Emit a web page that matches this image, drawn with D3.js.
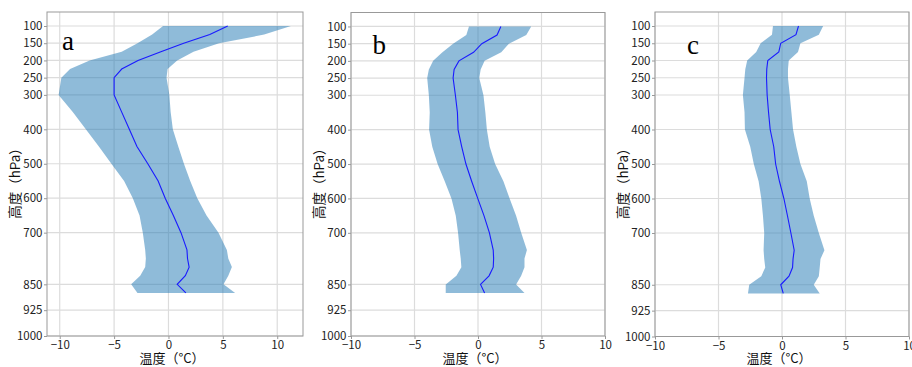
<!DOCTYPE html>
<html>
<head>
<meta charset="utf-8">
<script src="https://cdn.jsdelivr.net/npm/d3@7"></script>
<style>
  body { margin: 0; background: #fff; }
  svg { display: block; }
  text { font-family: "Noto Sans CJK SC", "Noto Sans", sans-serif; }
</style>
</head>
<body>
<div id="chart"></div>
<script>
// pressure levels (hPa) of the profiles
const levels = [100, 125, 150, 175, 200, 225, 250, 300, 350, 400, 450, 500, 550, 600, 650, 700, 750, 775, 800, 825, 850, 875];

// panel a
const meanA = [5.45, 3.8, 1.4, -0.7, -2.8, -4.3, -5.0, -5.0, -4.3, -3.6, -2.9, -1.9, -0.95, -0.3, 0.45, 1.15, 1.7, 1.75, 1.9, 1.55, 0.8, 1.6];
const lowA = [-0.5, -1.5, -2.85, -4.3, -7.25, -9.05, -9.85, -10.1, -8.8, -7.6, -6.4, -5.25, -4.08, -3.28, -2.66, -2.36, -2.14, -2.08, -2.14, -2.6, -3.43, -2.85];
const highA = [11.26, 8.8, 4.65, 2.3, 0.8, -0.08, -0.18, 0.08, 0.2, 0.4, 0.9, 1.42, 2.0, 2.65, 3.5, 4.6, 5.37, 5.5, 5.83, 5.5, 5.06, 6.13];

// panel b
const meanB = [1.8, 1.5, 0.3, -0.35, -1.5, -1.88, -1.96, -1.78, -1.62, -1.57, -1.28, -0.95, -0.5, -0.02, 0.47, 0.9, 1.2, 1.23, 1.2, 0.87, 0.2, 0.52];
const lowB = [-0.71, -0.92, -1.96, -2.8, -3.53, -3.87, -4.0, -3.87, -3.8, -3.85, -3.6, -3.18, -2.62, -2.09, -1.75, -1.57, -1.44, -1.36, -1.31, -1.7, -2.54, -2.54];
const highB = [4.19, 3.8, 2.43, 1.83, 0.52, 0.21, 0.1, 0.43, 0.58, 0.7, 0.92, 1.35, 2.0, 2.49, 3.0, 3.4, 3.85, 3.66, 3.66, 3.4, 3.0, 3.66];

// panel c
const meanC = [1.3, 1.1, -0.1, -0.25, -1.12, -1.2, -1.22, -1.17, -1.06, -0.93, -0.65, -0.5, -0.2, 0.15, 0.43, 0.7, 0.96, 0.87, 0.83, 0.55, -0.1, 0.1];
const lowC = [-0.71, -0.79, -1.68, -2.03, -2.74, -2.89, -2.95, -3.08, -2.95, -2.92, -2.5, -2.22, -1.84, -1.63, -1.5, -1.4, -1.45, -1.4, -1.32, -1.63, -2.58, -2.68];
const highC = [3.24, 2.9, 1.45, 1.26, 0.53, 0.47, 0.47, 0.61, 0.74, 0.87, 1.13, 1.45, 1.95, 2.18, 2.5, 2.9, 3.34, 3.03, 2.97, 2.9, 2.5, 2.97];

const yTicks = [100, 150, 200, 250, 300, 400, 500, 600, 700, 850, 925, 1000];
const xTicks = [-10, -5, 0, 5, 10];
const panelLabels = ['a', 'b', 'c'];
const yTitle = '高度（hPa）';
const xTitle = '温度（°C）';

const width = 912, height = 367;

const panels = [
  { label: panelLabels[0], mean: meanA, low: lowA, high: highA, left: 47, right: 303, top: 12, bottom: 336, xDomain: [-11.17, 12.37], lx: 62, ly: 50 },
  { label: panelLabels[1], mean: meanB, low: lowB, high: highB, left: 351, right: 605, top: 12.5, bottom: 336, xDomain: [-10, 10], lx: 372.5, ly: 54 },
  { label: panelLabels[2], mean: meanC, low: lowC, high: highC, left: 655, right: 909, top: 12, bottom: 336.5, xDomain: [-10, 10], lx: 687, ly: 54 },
];

const svg = d3.select('#chart')
  .append('svg')
  .attr('width', width)
  .attr('height', height);

svg.append('rect').attr('width', width).attr('height', height).attr('fill', '#fff');

const fmt = (d) => (d < 0 ? '\u2212' + Math.abs(d) : String(d));

panels.forEach((p) => {
  const x = d3.scaleLinear().domain(p.xDomain).range([p.left, p.right]);
  const y = d3.scaleLinear().domain([1000, 59.4]).range([p.bottom, p.top]);
  const g = svg.append('g');

  // grid
  g.append('g')
    .selectAll('line.hgrid')
    .data(yTicks)
    .join('line')
    .attr('x1', p.left).attr('x2', p.right)
    .attr('y1', (d) => y(d)).attr('y2', (d) => y(d))
    .attr('stroke', '#dcdcdc')
    .attr('stroke-width', 1.2);
  g.append('g')
    .selectAll('line.vgrid')
    .data(xTicks)
    .join('line')
    .attr('x1', (d) => x(d)).attr('x2', (d) => x(d))
    .attr('y1', p.top).attr('y2', p.bottom)
    .attr('stroke', '#dcdcdc')
    .attr('stroke-width', 1.2);

  const rows = levels.map((lev, i) => ({ lev, m: p.mean[i], lo: p.low[i], hi: p.high[i] }));

  const area = d3.area()
    .y((d) => y(d.lev))
    .x0((d) => x(d.lo))
    .x1((d) => x(d.hi));
  g.append('path')
    .datum(rows)
    .attr('d', area)
    .attr('fill', '#1f77b4')
    .attr('fill-opacity', 0.5);

  const line = d3.line()
    .x((d) => x(d.m))
    .y((d) => y(d.lev));
  g.append('path')
    .datum(rows)
    .attr('d', line)
    .attr('fill', 'none')
    .attr('stroke', '#1a1aff')
    .attr('stroke-width', 1.1);

  // axes
  const yAxis = g.append('g')
    .attr('transform', `translate(${p.left},0)`)
    .call(d3.axisLeft(y).tickValues(yTicks).tickSize(3).tickPadding(1.5).tickFormat(d3.format('d')));
  const xAxis = g.append('g')
    .attr('transform', `translate(0,${p.bottom})`)
    .call(d3.axisBottom(x).tickValues(xTicks).tickSize(3).tickPadding(2).tickFormat(fmt));
  [yAxis, xAxis].forEach((ax) => {
    ax.select('.domain').remove();
    ax.selectAll('line').attr('stroke', '#999');
    ax.selectAll('text')
      .attr('fill', '#222')
      .style('font-size', '11.5px');
  });

  // frame
  g.append('rect')
    .attr('x', p.left).attr('y', p.top)
    .attr('width', p.right - p.left).attr('height', p.bottom - p.top)
    .attr('fill', 'none')
    .attr('stroke', '#999')
    .attr('stroke-width', 1);

  // titles
  g.append('text')
    .attr('transform', `translate(${p.left - 31},${(p.top + p.bottom) / 2 + 6}) rotate(-90)`)
    .attr('text-anchor', 'middle')
    .attr('dominant-baseline', 'middle')
    .style('font-size', '13.5px')
    .attr('fill', '#111')
    .text(yTitle);
  g.append('text')
    .attr('x', (p.left + p.right) / 2 - 3)
    .attr('y', 362.5)
    .attr('text-anchor', 'middle')
    .style('font-size', '13px')
    .attr('fill', '#111')
    .text(xTitle);

  g.append('text')
    .attr('x', p.lx)
    .attr('y', p.ly)
    .style('font-family', '"Liberation Serif", "Times New Roman", serif')
    .style('font-size', '27px')
    .attr('fill', '#000')
    .text(p.label);
});
</script>
</body>
</html>
